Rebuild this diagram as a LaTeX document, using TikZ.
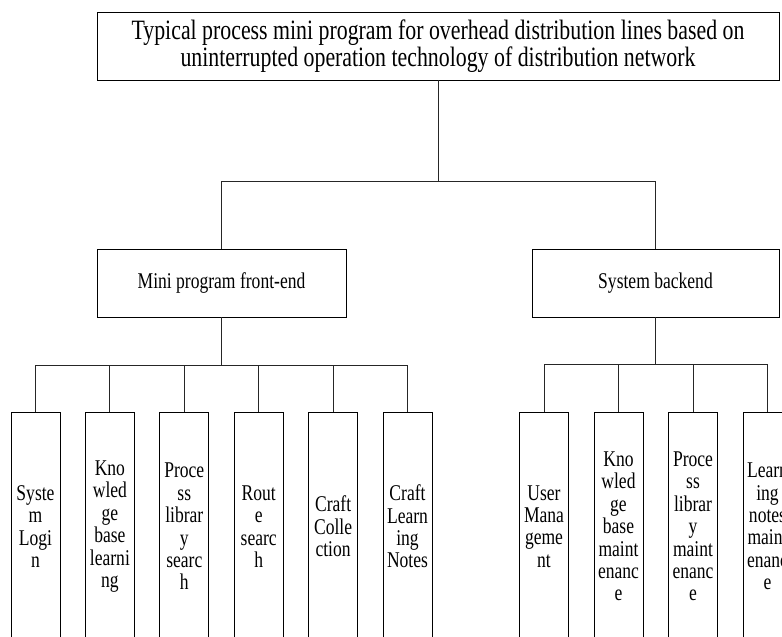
\documentclass[tikz,border=0pt]{standalone}
\usepackage{fontspec}
\setmainfont{Liberation Serif}
\newfontfamily\condfont[FakeStretch=0.78]{Liberation Serif}
\begin{document}
\begin{tikzpicture}[x=1pt,y=-1pt,
  box/.style={draw=black,line width=0.9pt,inner sep=0pt,align=center},
  leaf/.style={box,minimum width=49pt,minimum height=229pt,font=\condfont\fontsize{22.5}{22.4}\selectfont},
  mid/.style={box,minimum height=68pt,font=\condfont\fontsize{22.5}{22.4}\selectfont},
  link/.style={draw=black!85,line width=0.9pt}]
\useasboundingbox (0,0) rectangle (782,637);
\clip (0,0) rectangle (782,637);
\node[box,minimum width=682pt,minimum height=68pt,font=\condfont\fontsize{28}{27}\selectfont] (top) at (438,46)
  {Typical process mini program for overhead distribution lines based on\\uninterrupted operation technology of distribution network};
\node[mid,minimum width=249pt] (fe) at (221.5,283) {Mini program front-end};
\node[mid,minimum width=247pt] (be) at (655.5,283) {System backend};
\node[leaf] (l1) at (35.5,526.5) {Syste\\m\\Logi\\n};
\node[leaf] (l2) at (109.9,526.5) {Kno\\wled\\ge\\base\\learni\\ng};
\node[leaf] (l3) at (184.3,526.5) {Proce\\ss\\librar\\y\\searc\\h};
\node[leaf] (l4) at (258.7,526.5) {Rout\\e\\searc\\h};
\node[leaf] (l5) at (333.1,526.5) {Craft\\Colle\\ction};
\node[leaf] (l6) at (407.5,526.5) {Craft\\Learn\\ing\\Notes};
\node[leaf] (r1) at (544,526.5) {User\\Mana\\geme\\nt};
\node[leaf] (r2) at (618.5,526.5) {Kno\\wled\\ge\\base\\maint\\enanc\\e};
\node[leaf] (r3) at (693,526.5) {Proce\\ss\\librar\\y\\maint\\enanc\\e};
\node[leaf] (r4) at (767.5,526.5) {Learn\\ing\\notes\\maint\\enanc\\e};
\foreach \c in {fe,be} \draw[link] (top.south) -- ++(0,101) -| (\c.north);
\foreach \c in {l1,l2,l3,l4,l5,l6} \draw[link] (fe.south) -- ++(0,48) -| (\c.north);
\foreach \c in {r1,r2,r3,r4} \draw[link] (be.south) -- ++(0,47) -| (\c.north);
\end{tikzpicture}
\end{document}
